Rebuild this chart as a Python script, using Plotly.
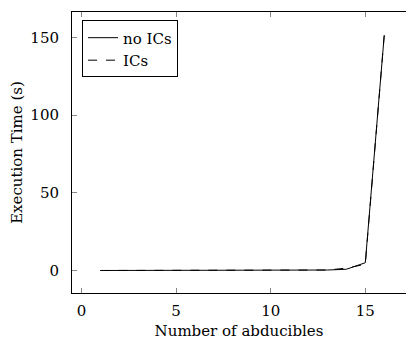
import plotly.graph_objects as go

n_abducibles = list(range(1, 17))
time_no_ics = [0, 0, 0, 0, 0, 0, 0, 0, 0, 0, 0, 0.1, 0.3, 0.8, 5.0, 151.5]
time_ics = [0, 0, 0, 0, 0, 0, 0, 0, 0, 0, 0, 0.1, 0.3, 1.5, 4.0, 151.5]
x_ticks = [0, 5, 10, 15]
y_ticks = [0, 50, 100, 150]

FONT = "DejaVu Serif"
TITLE_FONT = dict(family=FONT, size=15, color="black")

fig = go.Figure()
fig.add_trace(go.Scatter(x=n_abducibles, y=time_no_ics, mode="lines", name="no ICs",
                         line=dict(color="black", width=1)))
fig.add_trace(go.Scatter(x=n_abducibles, y=time_ics, mode="lines", name="ICs",
                         line=dict(color="black", width=1, dash="dash")))

fig.update_layout(
    width=406, height=342,
    margin=dict(l=72, r=0, t=12, b=49),
    paper_bgcolor="white", plot_bgcolor="white",
    font=dict(family=FONT, size=15, color="black"),
    showlegend=True,
    legend=dict(x=0.03, y=0.97, xanchor="left", yanchor="top",
                bordercolor="black", borderwidth=1, bgcolor="white",
                font=dict(family=FONT, size=15), tracegroupgap=0),
    xaxis=dict(range=[-0.5, 17.15], tickvals=x_ticks, showgrid=False, zeroline=False,
               showline=True, linecolor="black", linewidth=1, mirror="ticks",
               ticks="inside", ticklen=5, tickcolor="#888888", ticklabelstandoff=4,
               tickfont=dict(family=FONT, size=15),
               title=dict(text="Number of abducibles", standoff=6, font=TITLE_FONT)),
    yaxis=dict(range=[-14.5, 166.5], tickvals=y_ticks, showgrid=False, zeroline=False,
               showline=True, linecolor="black", linewidth=1,
               ticks="inside", ticklen=5, tickcolor="#888888", ticklabelstandoff=9,
               tickfont=dict(family=FONT, size=15),
               title=dict(text="Execution Time (s)", standoff=4, font=TITLE_FONT)),
)

fig.write_html("out.html")
